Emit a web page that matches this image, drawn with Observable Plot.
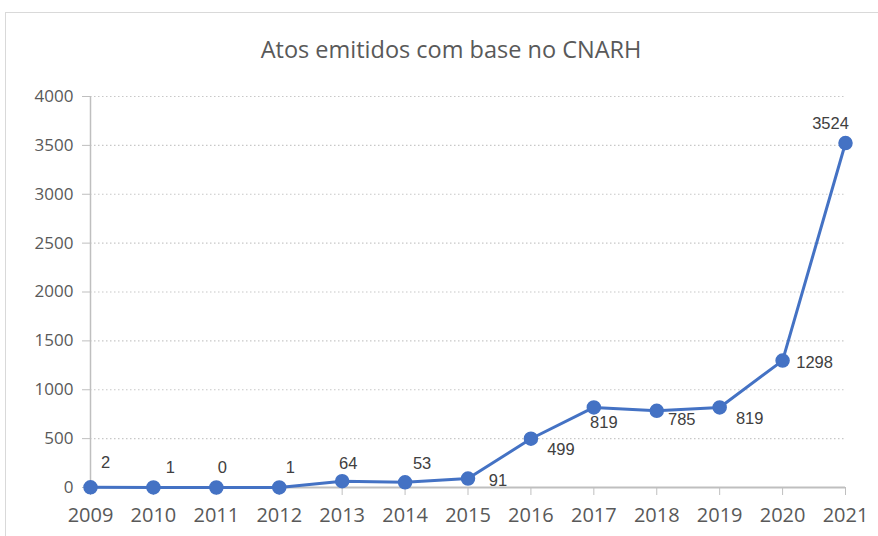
<!DOCTYPE html>
<html>
<head>
<meta charset="utf-8">
<script src="https://cdn.jsdelivr.net/npm/d3@7"></script>
<script src="https://cdn.jsdelivr.net/npm/@observablehq/plot@0.6"></script>
<style>
  html, body { margin: 0; padding: 0; background: #fff; width: 878px; height: 536px; overflow: hidden; }
  #frame { position: absolute; left: 5px; top: 12px; width: 890px; height: 560px; border: 1.5px solid #d9d9d9; box-sizing: border-box; }
  #title { position: absolute; left: 0; top: 33px; width: 902px; text-align: center; font-family: "Open Sans", sans-serif; font-size: 23.5px; color: #595959; }
  #chart { position: absolute; left: 0; top: 80px; }
</style>
</head>
<body>
<div id="frame"></div>
<div id="title">Atos emitidos com base no CNARH</div>
<div id="chart"></div>
<script>
// Data
const years = [2009, 2010, 2011, 2012, 2013, 2014, 2015, 2016, 2017, 2018, 2019, 2020, 2021];
const values = [2, 1, 0, 1, 64, 53, 91, 499, 819, 785, 819, 1298, 3524];
const yTicks = [0, 500, 1000, 1500, 2000, 2500, 3000, 3500, 4000];

// Label placement (layout only)
const labelDx = [15, 17, 6, 11, 6, 17, 30, 30, 10, 25, 30, 32, -15];
const labelDy = [-25, -20, -20, -20, -18, -19, 2, 11, 15, 9, 11, 2, -19];

const data = years.map((y, i) => ({year: y, value: values[i]}));
const blue = "#4472C4";
const axisGrey = "#bfbfbf";

const labelMarks = data.map((d, i) => Plot.text([d], {
  x: "year", y: "value", text: d => String(d.value),
  dx: labelDx[i], dy: labelDy[i],
  fill: "#404040", fontSize: 16.5, fontFamily: "Liberation Sans, Arial, sans-serif"
}));

const chart = Plot.plot({
  width: 878,
  height: 456,
  marginLeft: 90,
  marginRight: 33,
  marginTop: 16,
  marginBottom: 49,
  style: {background: "transparent", overflow: "visible"},
  x: {domain: [2009, 2021], ticks: years},
  y: {domain: [0, 4000], ticks: yTicks},
  marks: [
    Plot.gridY(yTicks.filter(t => t > 0), {stroke: "#c8c8c8", strokeOpacity: 1, strokeDasharray: "1.5,2.5", strokeWidth: 1.2}),
    Plot.ruleX([2009], {y1: 0, y2: 4000, stroke: axisGrey, strokeWidth: 1.5}),
    Plot.ruleY([0], {stroke: axisGrey, strokeWidth: 2}),
    Plot.axisY(yTicks, {tickSize: 8, tickPadding: 9, stroke: axisGrey, fill: "#595959", fontSize: 17, fontFamily: "Open Sans, sans-serif", tickFormat: d => String(d), label: null}),
    Plot.axisX(years, {tickSize: 8, tickPadding: 12, stroke: axisGrey, fill: "#595959", fontSize: 20, fontFamily: "Open Sans, sans-serif", tickFormat: d => String(d), label: null}),
    Plot.line(data, {x: "year", y: "value", stroke: blue, strokeWidth: 3}),
    Plot.dot(data, {x: "year", y: "value", r: 6.5, fill: blue, stroke: blue}),
    ...labelMarks
  ]
});
document.getElementById("chart").appendChild(chart);
</script>
</body>
</html>
